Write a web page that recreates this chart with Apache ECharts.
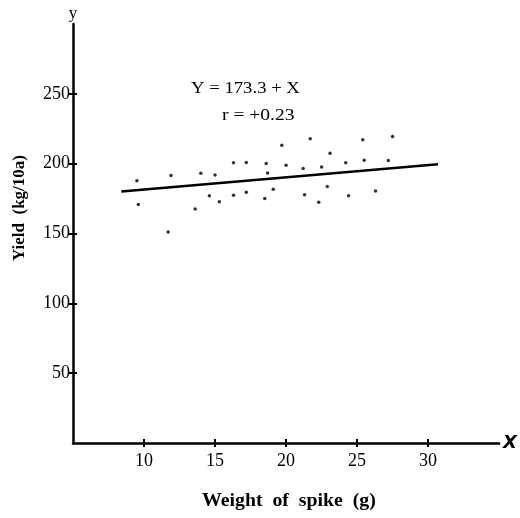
<!DOCTYPE html>
<html>
<head>
<meta charset="utf-8">
<script src="https://cdn.jsdelivr.net/npm/echarts@6/dist/echarts.min.js"></script>
<style>
  html, body { margin: 0; padding: 0; background: #fff; }
  #chart { width: 520px; height: 518px; }
</style>
</head>
<body>
<div id="chart"></div>
<script>
// spike weight (g) vs yield (kg/10a)
const spikeWeight = [9.5, 9.6, 11.7, 11.9, 13.6, 14.0, 14.6, 15.0, 15.3, 16.3, 16.3,
  17.2, 17.2, 18.5, 18.6, 18.7, 19.1, 19.7, 20.0, 21.2, 21.3, 21.7, 22.3, 22.5,
  22.9, 23.1, 24.2, 24.4, 25.4, 25.5, 26.3, 27.2, 27.5];
const yieldVal = [187.7, 170.8, 151.0, 191.6, 167.6, 193.1, 177.0, 191.8, 172.7, 200.6, 177.4,
  200.9, 179.5, 175.1, 200.1, 193.4, 181.7, 213.2, 198.8, 196.5, 177.7, 217.8, 172.4, 197.7,
  183.6, 207.4, 200.6, 177.1, 217.1, 202.4, 180.5, 202.2, 219.4];
const lineX = [8.4, 30.7];
const lineY = [180, 199.5];
const xTicks = [10, 15, 20, 25, 30];
const yTicks = [50, 100, 150, 200, 250];

const points = spikeWeight.map(function (x, i) { return [x, yieldVal[i]]; });
const fitLine = lineX.map(function (x, i) { return [x, lineY[i]]; });

const serif = "'Liberation Serif', 'DejaVu Serif', serif";

const chart = echarts.init(document.getElementById("chart"));
chart.setOption({
  animation: false,
  grid: { left: 73, right: 20, top: 24, bottom: 75 },
  xAxis: [{
    type: "value",
    min: 5,
    max: 35,
    name: "X",
    nameLocation: "end",
    nameGap: 4,
    nameTextStyle: { color: "#000", fontSize: 18, fontWeight: "bold", fontStyle: "italic", fontFamily: "'DejaVu Sans', sans-serif" },
    splitLine: { show: false },
    axisLine: { lineStyle: { color: "#000", width: 2.5 } },
    axisTick: { customValues: xTicks, length: 4, lineStyle: { color: "#000", width: 2 } },
    axisLabel: { customValues: xTicks, color: "#000", fontSize: 18, fontFamily: serif, margin: 9 }
  }, {
    type: "value",
    min: 5,
    max: 35,
    position: "bottom",
    splitLine: { show: false },
    axisLine: { show: false },
    axisTick: { inside: true, customValues: xTicks, length: 4, lineStyle: { color: "#000", width: 2 } },
    axisLabel: { show: false }
  }],
  yAxis: [{
    type: "value",
    min: 0,
    max: 300,
    name: "y",
    nameLocation: "end",
    nameGap: 2,
    nameTextStyle: { color: "#000", fontSize: 17, fontFamily: serif },
    splitLine: { show: false },
    axisLine: { lineStyle: { color: "#000", width: 2.5 } },
    axisTick: { customValues: yTicks, length: 4, lineStyle: { color: "#000", width: 2 } },
    axisLabel: { customValues: yTicks, color: "#000", fontSize: 18, fontFamily: serif, margin: 3 }
  }, {
    type: "value",
    min: 0,
    max: 300,
    position: "left",
    splitLine: { show: false },
    axisLine: { show: false },
    axisTick: { inside: true, customValues: yTicks, length: 4, lineStyle: { color: "#000", width: 2 } },
    axisLabel: { show: false }
  }],
  graphic: [{
    type: "text", left: 191, top: 80, scaleX: 1.1,
    style: { text: "Y = 173.3 + X", fill: "#000", font: "17px " + serif }
  }, {
    type: "text", left: 222, top: 107, scaleX: 1.15,
    style: { text: "r = +0.23", fill: "#000", font: "17px " + serif }
  }, {
    type: "text", left: 202, top: 492, scaleX: 1.1,
    style: { text: "Weight  of  spike  (g)", fill: "#000", font: "bold 18px " + serif }
  }, {
    type: "text", left: 11, top: 155, rotation: Math.PI / 2,
    style: { text: "Yield  (kg/10a)", fill: "#000", font: "bold 17px " + serif }
  }],
  series: [{
    type: "scatter",
    data: points,
    symbolSize: 3.5,
    itemStyle: { color: "#000" }
  }, {
    type: "line",
    data: fitLine,
    symbol: "none",
    lineStyle: { color: "#000", width: 2.5 }
  }]
});
</script>
</body>
</html>
